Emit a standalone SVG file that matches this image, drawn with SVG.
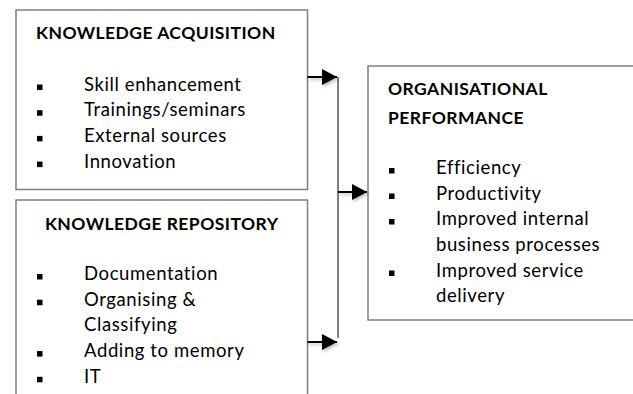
<svg xmlns="http://www.w3.org/2000/svg" width="633" height="394" viewBox="0 0 633 394">
  <defs>
    <style>
      .box { fill: #ffffff; stroke: #7f7f7f; stroke-width: 1.5; }
      .head { font-family: Lato, "Liberation Sans", sans-serif; font-size: 17.5px; font-weight: bold; letter-spacing: 0.45px; fill: #000000; }
      .item { font-family: Lato, "Liberation Sans", sans-serif; font-size: 18.5px; letter-spacing: 0.6px; fill: #000000; }
      .bullet { fill: #000000; }
      .spine { stroke: #7f7f7f; stroke-width: 2; fill: none; }
      .arrow { stroke: #000000; stroke-width: 2; fill: none; }
    </style>
    <marker id="head" markerUnits="userSpaceOnUse" markerWidth="16" markerHeight="16" refX="15" refY="8" orient="auto">
      <path d="M0,0 L15,8 L0,16 Z" fill="#000000"/>
    </marker>
    <filter id="soft" x="-30%" y="-50%" width="160%" height="200%">
      <feDropShadow dx="1.5" dy="2" stdDeviation="1.5" flood-color="#000000" flood-opacity="0.25"/>
    </filter>
  </defs>

  <rect width="633" height="394" fill="#ffffff"/>

  <!-- Knowledge acquisition -->
  <g id="knowledge-acquisition">
    <rect class="box" x="16" y="10" width="291.5" height="179.5"/>
    <text class="head" x="36" y="39">KNOWLEDGE ACQUISITION</text>
    <rect class="bullet" x="37" y="84.5" width="5.5" height="5.5"/>
    <text class="item" x="84" y="90.5">Skill enhancement</text>
    <rect class="bullet" x="37" y="110.2" width="5.5" height="5.5"/>
    <text class="item" x="84" y="116.2">Trainings/seminars</text>
    <rect class="bullet" x="37" y="135.9" width="5.5" height="5.5"/>
    <text class="item" x="84" y="141.9">External sources</text>
    <rect class="bullet" x="37" y="161.6" width="5.5" height="5.5"/>
    <text class="item" x="84" y="167.6">Innovation</text>
  </g>

  <!-- Knowledge repository -->
  <g id="knowledge-repository">
    <path class="box" d="M16,400 L16,200 L307.5,200 L307.5,400"/>
    <text class="head" x="161.7" y="230" text-anchor="middle">KNOWLEDGE REPOSITORY</text>
    <rect class="bullet" x="37" y="274" width="5.5" height="5.5"/>
    <text class="item" x="84" y="280">Documentation</text>
    <rect class="bullet" x="37" y="299.7" width="5.5" height="5.5"/>
    <text class="item" x="84" y="305.7">Organising &amp;</text>
    <text class="item" x="84" y="331.4">Classifying</text>
    <rect class="bullet" x="37" y="351.1" width="5.5" height="5.5"/>
    <text class="item" x="84" y="357.1">Adding to memory</text>
    <rect class="bullet" x="37" y="376.8" width="5.5" height="5.5"/>
    <text class="item" x="84" y="382.8">IT</text>
  </g>

  <!-- Organisational performance -->
  <g id="organisational-performance">
    <path class="box" d="M640,66 L368,66 L368,320 L640,320"/>
    <text class="head" x="388" y="95">ORGANISATIONAL</text>
    <text class="head" x="388" y="123.5">PERFORMANCE</text>
    <rect class="bullet" x="389" y="168" width="5.5" height="5.5"/>
    <text class="item" x="436" y="174">Efficiency</text>
    <rect class="bullet" x="389" y="193.5" width="5.5" height="5.5"/>
    <text class="item" x="436" y="199.5">Productivity</text>
    <rect class="bullet" x="389" y="219" width="5.5" height="5.5"/>
    <text class="item" x="436" y="225">Improved internal</text>
    <text class="item" x="436" y="250.7">business processes</text>
    <rect class="bullet" x="389" y="270.5" width="5.5" height="5.5"/>
    <text class="item" x="436" y="276.5">Improved service</text>
    <text class="item" x="436" y="301.7">delivery</text>
  </g>

  <!-- Connectors -->
  <g id="connectors">
    <line class="spine" x1="338" y1="77" x2="338" y2="338"/>
    <g filter="url(#soft)">
      <line class="arrow" x1="307.5" y1="77" x2="337" y2="77" marker-end="url(#head)"/>
      <line class="arrow" x1="338" y1="192" x2="367" y2="192" marker-end="url(#head)"/>
      <line class="arrow" x1="307.5" y1="342" x2="337" y2="342" marker-end="url(#head)"/>
    </g>
  </g>
</svg>
